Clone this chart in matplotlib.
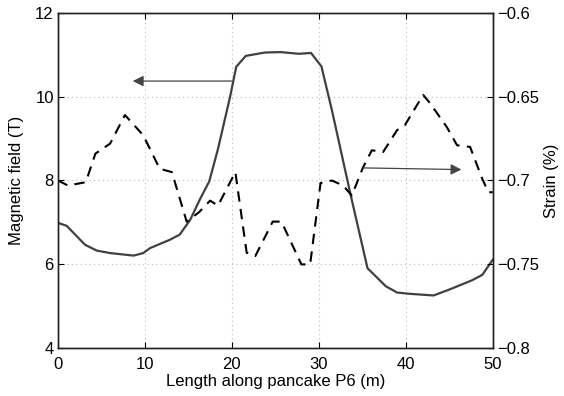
import numpy as np
import matplotlib.pyplot as plt

plt.rcParams['font.family'] = ['Liberation Sans', 'DejaVu Sans']
plt.rcParams['axes.unicode_minus'] = True

# magnetic field along the pancake (solid)
len_b = [0.0, 1.0, 3.1, 4.45, 6.0, 8.7, 9.8, 10.6, 12.9, 14.0, 15.2, 16.3, 17.4,
         18.4, 19.8, 20.5, 21.6, 23.8, 25.6, 27.7, 29.1, 30.3, 31.5, 33.7,
         35.6, 37.7, 39.0, 40.4, 43.2, 45.0, 47.6, 48.8, 50.0]
field = [6.99, 6.92, 6.47, 6.33, 6.27, 6.21, 6.27, 6.39, 6.59, 6.71, 7.06, 7.54, 7.98,
         8.75, 10.0, 10.71, 10.97, 11.05, 11.06, 11.02, 11.04, 10.72, 9.68, 7.62,
         5.91, 5.48, 5.33, 5.30, 5.26, 5.40, 5.62, 5.75, 6.11]

# strain (dashed)
len_s = [0.0, 1.15, 3.2, 4.3, 6.0, 7.7, 9.8, 11.7, 13.1, 14.8, 16.2, 17.5, 18.4,
         20.4, 21.7, 22.7, 24.7, 25.7, 28.0, 29.0, 30.2, 31.5, 32.8, 33.8,
         35.1, 36.1, 37.4, 39.0, 39.9, 42.0, 42.8, 44.7, 45.9, 47.4, 48.8, 49.5, 50.0]
strain = [-0.700, -0.703, -0.701, -0.684, -0.678, -0.661, -0.673, -0.693, -0.695,
          -0.7245, -0.719, -0.712, -0.715, -0.695, -0.743, -0.745, -0.7245,
          -0.7245, -0.750, -0.750, -0.7015, -0.700, -0.703, -0.709,
          -0.692, -0.682, -0.683, -0.670, -0.667, -0.649, -0.654, -0.668,
          -0.679, -0.680, -0.699, -0.707, -0.707]

fig = plt.figure(figsize=(5.64, 3.96), dpi=100)
ax = fig.add_axes([0.1028, 0.1204, 0.7708, 0.8476])
ax2 = ax.twinx()

ax.plot(len_b, field, color='#404040', lw=1.6)
ax2.plot(len_s, strain, color='k', lw=1.5, ls=(0, (5, 3.5)))

ax.set_xlim(0, 50)
ax.set_ylim(4, 12)
ax2.set_ylim(-0.8, -0.6)
ax.set_xticks([0, 10, 20, 30, 40, 50])
ax.set_yticks([4, 6, 8, 10, 12])
ax2.set_yticks([-0.8, -0.75, -0.7, -0.65, -0.6])
ax2.set_yticklabels(['\u22120.8', '\u22120.75', '\u22120.7', '\u22120.65', '\u22120.6'])

ax.grid(True, color='#b8b8b8', ls=(0, (1, 3)), lw=0.8)
for a in (ax, ax2):
    a.tick_params(direction='in', length=4, labelsize=12, width=0.8, pad=3)
    for s in a.spines.values():
        s.set_linewidth(1.0)
        s.set_color('#222222')
ax.tick_params(axis='x', top=True, pad=6)

ax.set_xlabel('Length along pancake P6 (m)', fontsize=12, labelpad=2)
ax.set_ylabel('Magnetic field (T)', fontsize=12, labelpad=8)
ax2.set_ylabel('Strain (%)', fontsize=12, labelpad=4)

ax.annotate('', xy=(8.6, 10.37), xytext=(20.0, 10.37),
            arrowprops=dict(arrowstyle='-|>', color='#444444', lw=0.9,
                            mutation_scale=16, shrinkA=0, shrinkB=0))
ax2.annotate('', xy=(46.4, -0.6935), xytext=(35.1, -0.6925),
             arrowprops=dict(arrowstyle='-|>', color='#444444', lw=0.9,
                             mutation_scale=16, shrinkA=0, shrinkB=0))

fig.savefig('out.png', dpi=100)
